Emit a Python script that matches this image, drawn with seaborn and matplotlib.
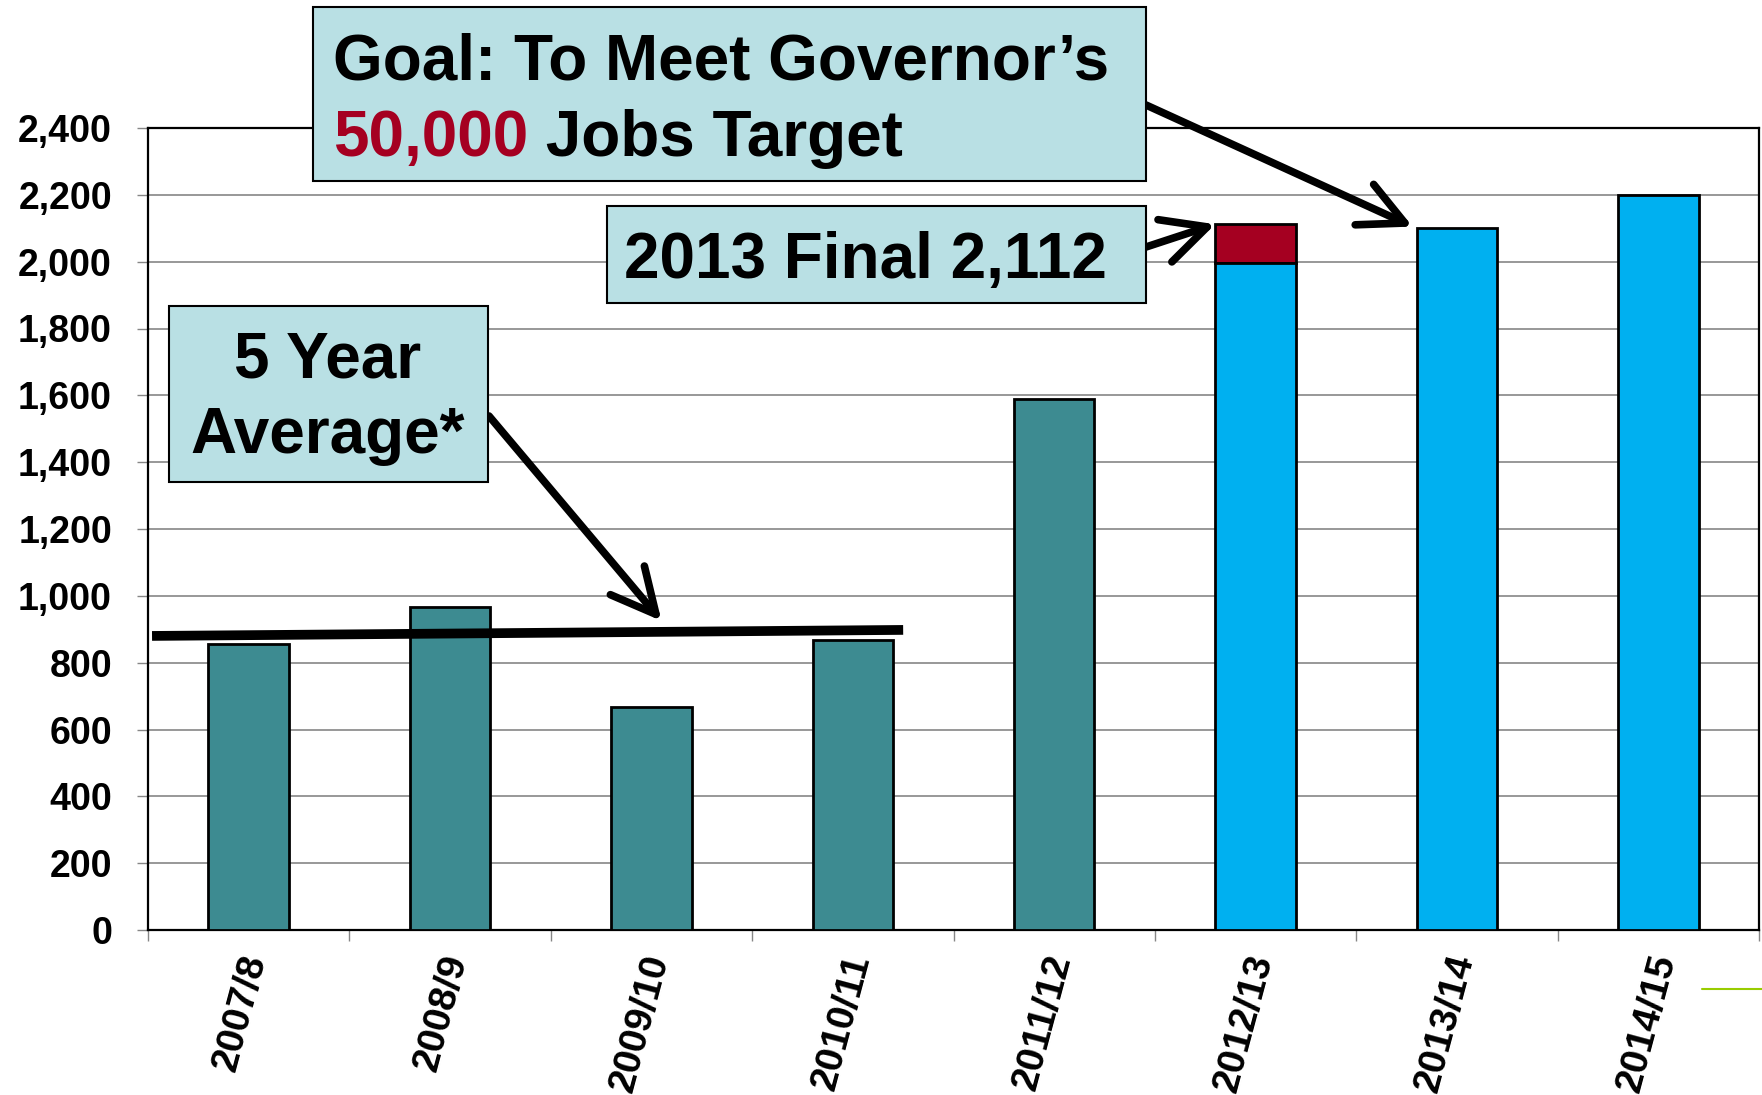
import numpy as np
import pandas as pd
import matplotlib
matplotlib.use('Agg')
import matplotlib.pyplot as plt
import matplotlib.transforms as mtransforms
from matplotlib.patches import Rectangle
from matplotlib.lines import Line2D
from matplotlib.ticker import FixedLocator, FuncFormatter
import seaborn as sns

# Data
years = ['2007/8', '2008/9', '2009/10', '2010/11', '2011/12', '2012/13', '2013/14', '2014/15']
jobs = [855, 966, 667, 869, 1589, 1995, 2100, 2200]
final_2013 = 2112          # 2012/13 final figure (red top part)
final_idx = 5
bar_colors = ['#3D8B91'] * 5 + ['#00B0F0'] * 3
yticks = list(range(0, 2401, 200))

# hand drawn 5 year average line (x in category units)
avg_x = [-0.48, 3.25]
avg_y = [880, 898]

W, H = 1762, 1095


def fp(x, y):
    # image pixel (top-left origin) -> figure fraction
    return x / W, 1 - y / H


sns.set_style('white')
plt.rcParams['font.family'] = ['Liberation Sans', 'DejaVu Sans']
plt.rcParams['font.weight'] = 'bold'
plt.rcParams['text.color'] = 'black'
plt.rcParams['xtick.labelcolor'] = 'black'
plt.rcParams['ytick.labelcolor'] = 'black'

fig = plt.figure(figsize=(W / 100, H / 100), dpi=100)
ax = fig.add_axes([148 / W, 1 - 930 / H, (1759 - 148) / W, (930 - 128) / H])

df = pd.DataFrame({'year': years, 'jobs': jobs})

# red stacked part first, base bars on top
ax.bar(final_idx, final_2013 - jobs[final_idx], bottom=jobs[final_idx], width=0.4,
       color='#A50021', edgecolor='black', linewidth=2, zorder=2)
sns.barplot(data=df, x='year', y='jobs', hue='year', palette=bar_colors, legend=False,
            width=0.4, edgecolor='black', linewidth=2, saturation=1, ax=ax, zorder=3)

ax.plot(avg_x, avg_y, color='black', lw=7, solid_capstyle='butt', zorder=4)

ax.set_xlim(-0.5, 7.5)
ax.set_ylim(0, 2400)
ax.set_xlabel('')
ax.set_ylabel('')

ax.set_yticks(yticks)
ax.yaxis.set_major_formatter(FuncFormatter(lambda v, p: f'{int(v):,}'))
ax.yaxis.grid(True, color='#868686', lw=1.2)
ax.set_axisbelow(True)
ax.tick_params(axis='y', length=8, width=1, color='#868686', pad=18, labelsize=27, left=True)

ax.set_xticks(range(len(years)))
ax.set_xticklabels(years, rotation=75, rotation_mode='anchor', ha='right', va='center')
ax.xaxis.set_minor_locator(FixedLocator(np.arange(-0.5, 8, 1)))
ax.tick_params(axis='x', which='major', length=0, pad=18, labelsize=28)
ax.tick_params(axis='x', which='minor', length=8, width=1, color='#868686', bottom=True)
shift = mtransforms.ScaledTranslation(7 / 100, 0, fig.dpi_scale_trans)
for lab in ax.get_xticklabels():
    lab.set_transform(lab.get_transform() + shift)

for s in ax.spines.values():
    s.set_color('black')
    s.set_linewidth(1.6)
    s.set_visible(True)

# arrows: tail in image pixels, head in data coords
arrows = [((1146, 105), (5.78, 2105)),
          ((1146, 247), (4.80, 2112)),
          ((489, 416), (2.05, 925))]
for tail, head in arrows:
    ax.annotate('', xy=head, xycoords='data', xytext=fp(*tail), textcoords='figure fraction',
                annotation_clip=False,
                arrowprops=dict(arrowstyle='->,head_length=0.8,head_width=0.4', color='black',
                                lw=5.5, mutation_scale=40, shrinkA=0, shrinkB=0,
                                capstyle='round', joinstyle='round'))

# annotation boxes
box_fc = '#B9E0E4'
boxes = [(313, 7, 1146, 181), (607, 206, 1146, 303), (169, 306, 488, 482)]
for x0, y0, x1, y1 in boxes:
    fx0, fy1 = fp(x0, y1)
    fig.add_artist(Rectangle((fx0, fy1), (x1 - x0) / W, (y1 - y0) / H, transform=fig.transFigure,
                             facecolor=box_fc, edgecolor='black', linewidth=1.5, zorder=5))

fs = 46
fig.text(*fp(333, 79), 'Goal: To Meet Governor\u2019s', fontsize=fs, fontweight='bold',
         va='baseline', ha='left', zorder=6)
t_red = fig.text(*fp(333, 156), '50,000', fontsize=fs, fontweight='bold', color='#A50021',
                 va='baseline', ha='left', zorder=6)
fig.canvas.draw()
bb = t_red.get_window_extent()
fig.text(bb.x1 / W, 1 - 156 / H, ' Jobs Target', fontsize=fs, fontweight='bold',
         va='baseline', ha='left', zorder=6)
fig.text(*fp(624, 278), '2013 Final 2,112', fontsize=fs, fontweight='bold',
         va='baseline', ha='left', zorder=6)
fig.text(*fp(328, 378), '5 Year', fontsize=fs, fontweight='bold', va='baseline', ha='center', zorder=6)
fig.text(*fp(328, 453), 'Average*', fontsize=fs, fontweight='bold', va='baseline', ha='center', zorder=6)

# small green line at bottom right
fig.add_artist(Line2D([1702 / W, 1.0], [1 - 989 / H] * 2, color='#99CC00', lw=1.5,
                      transform=fig.transFigure))

fig.savefig('out.png', dpi=100)
